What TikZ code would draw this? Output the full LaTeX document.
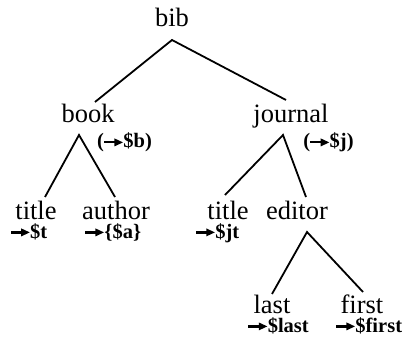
\documentclass[tikz,border=0pt]{standalone}
\usepackage{fontspec}
\setmainfont{Liberation Serif}
\newcommand{\myarr}{\tikz[baseline=0pt,x=1pt,y=1pt]{\fill (0,4.5) rectangle (12,6.7);\fill (10.5,1.6) -- (19,5.6) -- (10.5,9.6) -- cycle;}\hspace{0.5pt}}
\begin{document}
\begin{tikzpicture}[x=1pt,y=-1pt,
  lbl/.style={anchor=base,inner sep=0pt,font=\fontsize{26.5}{28}\selectfont},
  var/.style={anchor=base,inner sep=0pt,font=\fontsize{20.5}{22}\selectfont\bfseries},
  edge/.style={line width=1.8pt}]
\useasboundingbox (0,0) rectangle (403,344);
% labels
\node[lbl] (bib) at (172,27) {bib};
\node[lbl] (book) at (88,123) {book};
\node[lbl] (journal) at (291,123) {journal};
\node[var] (bv) at (124.5,148) {(\myarr\$b)};
\node[var] (jv) at (328.5,148) {(\myarr\$j)};
\node[lbl] (t1) at (36,219) {title};
\node[lbl] (au) at (116,219) {author};
\node[lbl] (t2) at (228,219) {title};
\node[lbl] (ed) at (297,219) {editor};
\node[var] (tv) at (29,238) {\myarr\$t};
\node[var] (av) at (113,238) {\myarr\{\$a\}};
\node[var] (jtv) at (217.5,238) {\myarr\$jt};
\node[lbl] (la) at (272,313) {last};
\node[lbl] (fi) at (362,313) {first};
\node[var] (lav) at (278.5,332) {\myarr\$last};
\node[var] (fiv) at (369,332) {\myarr\$first};
% connector end points
\coordinate (bibS) at (172,40);
\coordinate (bookN) at (95,102);
\coordinate (jourN) at (286,100);
\coordinate (bookS) at (79,135);
\coordinate (t1N) at (45,197);
\coordinate (auN) at (115,197);
\coordinate (jourS) at (283,135);
\coordinate (t2N) at (225,195);
\coordinate (edN) at (306,197);
\coordinate (edS) at (307,232);
\coordinate (laN) at (272,294);
\coordinate (fiN) at (363,292);
\draw[edge] (bookN) -- (bibS) -- (jourN);
\draw[edge] (t1N) -- (bookS) -- (auN);
\draw[edge] (t2N) -- (jourS) -- (edN);
\draw[edge] (laN) -- (edS) -- (fiN);
\end{tikzpicture}
\end{document}
